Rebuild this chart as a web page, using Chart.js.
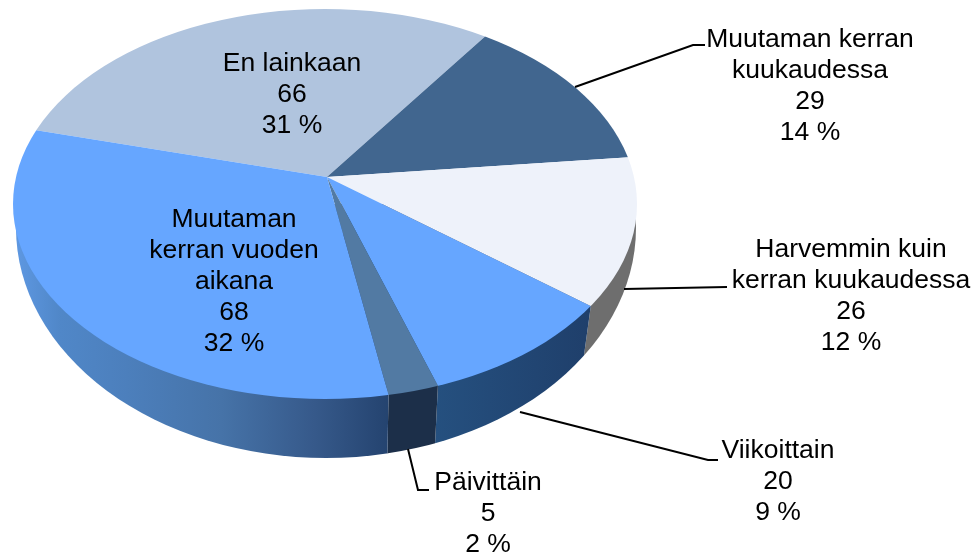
<!DOCTYPE html>
<html>
<head>
<meta charset="utf-8">
<style>html,body{margin:0;padding:0;background:#fff}canvas{display:block}</style>
<script src="https://cdn.jsdelivr.net/npm/chart.js@4"></script>
</head>
<body>
<canvas id="c" width="979" height="558"></canvas>
<script>
const categories = ["En lainkaan","Muutaman kerran kuukaudessa","Harvemmin kuin kerran kuukaudessa","Viikoittain","Päivittäin","Muutaman kerran vuoden aikana"];
const values = [66,29,26,20,5,68];
const percents = ["31 %","14 %","12 %","9 %","2 %","32 %"];
const labelLines = [["En lainkaan"],["Muutaman kerran","kuukaudessa"],["Harvemmin kuin","kerran kuukaudessa"],["Viikoittain"],["Päivittäin"],["Muutaman","kerran vuoden","aikana"]];
const topColors = ["#B0C4DE","#41668F","#EEF2FA","#66A6FF","#527AA3","#66A6FF"];
const wallStops = [null,null,[[0,"#6E6E6E"],[1,"#6E6E6E"]],[[0,"#25507F"],[1,"#1F3F6B"]],[[0,"#1C2F49"],[1,"#1C2F49"]],[[0,"#5E98E2"],[0.12,"#5087C8"],[0.3,"#4C7FBC"],[0.55,"#4673A8"],[0.8,"#36598A"],[1,"#24436F"]]];
const wallRange = [null,null,[580,640],[435,590],[385,437],[15,390]];
const labelPos = [[292,70.5],[810,46.5],[851,257],[778,458],[488,490],[234,226.5]];
const leaders = [[[575,87],[693,45],[705,45]],[[624,289],[727,287]],[[520,412],[708,460],[718,460]],[[408,449],[418,490],[429,490]]];

const apex = {x:327,y:177}, squash = 0.63;
const top3d = {x:325,y:204,rx:312,ry:195};
const base3d = {x:326,y:228,rx:310,ry:230};
const taper = 0.965;

function rim(angle){
  const dx=Math.cos(angle), dy=squash*Math.sin(angle);
  const ox=(apex.x-top3d.x)/top3d.rx, oy=(apex.y-top3d.y)/top3d.ry;
  const ux=dx/top3d.rx, uy=dy/top3d.ry;
  const a=ux*ux+uy*uy, b=2*(ox*ux+oy*uy), c=ox*ox+oy*oy-1;
  const t=(-b+Math.sqrt(b*b-4*a*c))/(2*a);
  return {x:apex.x+t*dx,y:apex.y+t*dy};
}
function wallEdge(angle){
  const p=rim(angle);
  if(p.y<top3d.y){
    const s=p.x>top3d.x?1:-1;
    return {side:{x:top3d.x+s*2000,y:top3d.y},far:{x:top3d.x+s*2000,y:2000}};
  }
  const qx=base3d.x+taper*(p.x-top3d.x);
  return {side:p,far:{x:p.x+(qx-p.x)*10,y:p.y+600}};
}
const pie3d = {
  id:"pie3d",
  beforeDatasetsDraw(chart){
    const ctx=chart.ctx, arcs=chart.getDatasetMeta(0).data;
    arcs.forEach((arc,i)=>{
      if(!wallStops[i]) return;
      const e1=wallEdge(arc.startAngle), e2=wallEdge(arc.endAngle);
      ctx.save();
      ctx.beginPath();
      ctx.moveTo(top3d.x,top3d.y);
      ctx.lineTo(e1.side.x,e1.side.y);
      ctx.lineTo(e1.far.x,e1.far.y);
      ctx.lineTo(e2.far.x,e2.far.y);
      ctx.lineTo(e2.side.x,e2.side.y);
      ctx.closePath();
      ctx.clip();
      const g=ctx.createLinearGradient(wallRange[i][0],0,wallRange[i][1],0);
      wallStops[i].forEach(s=>g.addColorStop(s[0],s[1]));
      ctx.fillStyle=g;
      ctx.beginPath();
      ctx.ellipse(base3d.x,base3d.y,base3d.rx,base3d.ry,0,0,Math.PI*2);
      ctx.fill();
      ctx.restore();
    });
    const a0=arcs[0], k=420/a0.outerRadius;
    ctx.save();
    ctx.beginPath();
    ctx.ellipse(top3d.x,top3d.y,top3d.rx,top3d.ry,0,0,Math.PI*2);
    ctx.clip();
    ctx.translate(apex.x,apex.y);
    ctx.scale(k,k*squash);
    ctx.translate(-a0.x,-a0.y);
  },
  afterDatasetsDraw(chart){
    const ctx=chart.ctx;
    ctx.restore();
    ctx.strokeStyle="#000";
    ctx.lineWidth=2;
    ctx.lineJoin="miter";
    leaders.forEach(l=>{
      ctx.beginPath();
      l.forEach((p,j)=>j?ctx.lineTo(p[0],p[1]):ctx.moveTo(p[0],p[1]));
      ctx.stroke();
    });
    ctx.fillStyle="#000";
    ctx.font='26.5px "Liberation Sans", Arial, sans-serif';
    ctx.textAlign="center";
    ctx.textBaseline="alphabetic";
    categories.forEach((cat,i)=>{
      const lines=[...labelLines[i],String(values[i]),percents[i]];
      lines.forEach((t,j)=>ctx.fillText(t,labelPos[i][0],labelPos[i][1]+j*31));
    });
  }
};
new Chart(document.getElementById("c"),{
  type:"pie",
  data:{labels:categories,datasets:[{data:values,backgroundColor:topColors,borderWidth:0,clip:false}]},
  options:{
    responsive:false,animation:false,rotation:-75.7,
    layout:{padding:0},
    plugins:{legend:{display:false},tooltip:{enabled:false}},
    events:[]
  },
  plugins:[pie3d]
});
</script>
</body>
</html>
